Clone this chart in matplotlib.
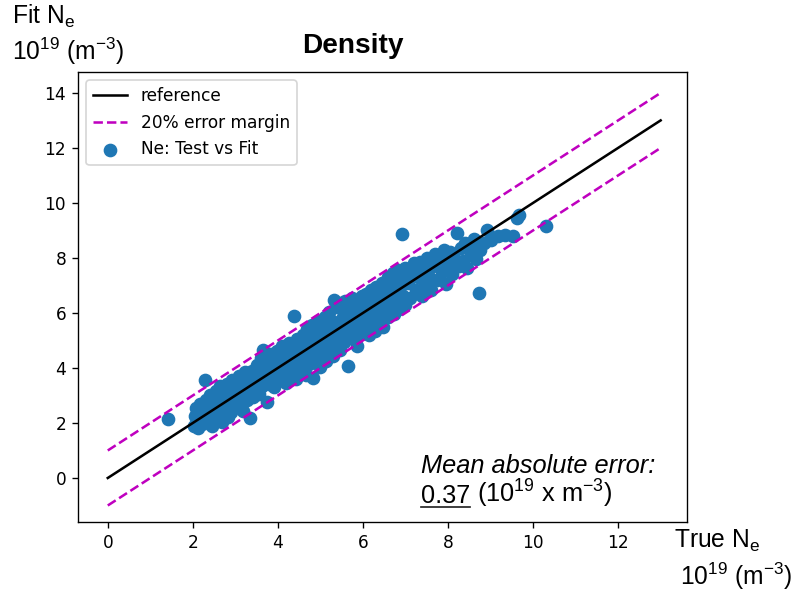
import numpy as np
import matplotlib.pyplot as plt
from matplotlib.lines import Line2D

plt.rcParams['mathtext.fontset'] = 'custom'
plt.rcParams['mathtext.rm'] = 'Liberation Sans'
plt.rcParams['mathtext.it'] = 'Liberation Sans:italic'
plt.rcParams['mathtext.bf'] = 'Liberation Sans:bold'

# puntos (True Ne, Fit Ne) en 1e19 m^-3
pts = [
    (1.41, 2.15),
    (2.02, 1.90), (2.05, 2.25), (2.08, 2.55), (2.10, 2.05), (2.12, 1.80), (2.15, 2.40), (2.18, 2.70),
    (2.20, 2.15), (2.22, 1.95), (2.25, 2.50), (2.28, 3.56), (2.30, 2.30), (2.32, 2.85), (2.35, 2.05),
    (2.38, 2.60), (2.40, 3.00), (2.42, 2.25), (2.45, 1.90), (2.48, 2.75), (2.50, 2.40),
    (2.52, 2.10), (2.55, 3.15), (2.58, 2.60), (2.60, 2.85), (2.62, 2.30), (2.65, 3.35), (2.68, 2.05),
    (2.70, 2.70), (2.72, 3.05), (2.75, 2.45), (2.78, 2.90), (2.80, 3.40), (2.82, 2.20), (2.85, 2.65),
    (2.88, 3.10), (2.90, 2.40), (2.92, 3.55), (2.95, 2.85), (2.98, 3.20), (3.00, 2.60),
    (3.02, 3.45), (3.05, 2.95), (3.08, 3.70), (3.10, 2.70), (3.12, 3.25), (3.15, 3.55), (3.18, 2.45),
    (3.20, 3.05), (3.22, 3.85), (3.25, 3.35), (3.28, 2.85), (3.30, 3.60), (3.34, 2.18), (3.35, 3.15),
    (3.38, 3.90), (3.40, 3.45), (3.42, 2.95), (3.45, 3.75), (3.48, 3.25), (3.50, 4.10),
    (3.52, 3.55), (3.55, 3.05), (3.58, 3.85), (3.60, 4.35), (3.62, 3.35), (3.65, 4.65), (3.68, 3.95),
    (3.70, 3.60), (3.74, 2.76), (3.75, 4.20), (3.78, 3.40), (3.80, 3.85), (3.82, 4.50), (3.85, 3.70),
    (3.88, 4.05), (3.90, 3.30), (3.92, 4.30), (3.95, 3.95), (3.98, 4.60), (4.00, 3.75),
    (4.02, 4.15), (4.05, 3.55), (4.08, 4.45), (4.10, 4.80), (4.12, 3.90), (4.15, 4.25), (4.18, 3.45),
    (4.20, 4.60), (4.22, 4.05), (4.25, 4.90), (4.28, 3.75), (4.30, 4.35), (4.32, 4.70), (4.35, 4.00),
    (4.38, 5.89), (4.40, 4.50), (4.42, 3.60), (4.45, 5.05), (4.48, 4.20), (4.50, 4.75),
    (4.52, 3.95), (4.55, 4.55), (4.58, 5.20), (4.60, 4.30), (4.62, 4.85), (4.65, 3.75), (4.68, 5.40),
    (4.70, 4.60), (4.72, 4.15), (4.75, 5.00), (4.78, 4.45), (4.80, 5.55), (4.82, 3.64), (4.85, 4.80),
    (4.88, 4.30), (4.90, 5.25), (4.92, 4.65), (4.95, 5.70), (4.98, 4.05), (5.00, 5.05),
    (5.02, 4.50), (5.05, 5.40), (5.08, 4.85), (5.10, 5.85), (5.12, 4.25), (5.15, 5.15), (5.18, 4.70),
    (5.20, 6.05), (5.22, 5.45), (5.25, 4.90), (5.28, 5.70), (5.32, 6.47), (5.30, 4.45), (5.35, 5.25),
    (5.38, 6.20), (5.40, 5.00), (5.42, 5.60), (5.45, 4.65), (5.48, 6.35), (5.50, 5.40),
    (5.52, 5.85), (5.55, 4.95), (5.58, 6.45), (5.60, 5.30), (5.62, 6.00), (5.65, 4.07), (5.68, 5.60),
    (5.70, 6.30), (5.72, 5.10), (5.75, 6.55), (5.78, 5.75), (5.80, 5.40), (5.82, 6.15), (5.85, 4.80),
    (5.88, 6.40), (5.90, 5.55), (5.92, 6.05), (5.95, 5.25), (5.98, 6.60), (6.00, 5.80),
    (6.02, 6.30), (6.05, 5.45), (6.08, 6.70), (6.10, 5.95), (6.12, 6.45), (6.15, 5.20), (6.18, 6.15),
    (6.20, 6.85), (6.22, 5.70), (6.25, 6.50), (6.28, 5.35), (6.30, 6.95), (6.32, 6.10), (6.35, 5.60),
    (6.38, 6.70), (6.40, 6.30), (6.42, 5.90), (6.45, 7.10), (6.48, 5.50), (6.50, 6.55),
    (6.52, 6.95), (6.55, 6.10), (6.58, 7.30), (6.60, 5.85), (6.62, 6.65), (6.65, 7.05), (6.68, 6.30),
    (6.70, 7.45), (6.72, 5.95), (6.75, 6.80), (6.78, 7.20), (6.80, 6.45), (6.82, 7.55), (6.85, 6.15),
    (6.88, 6.95), (6.92, 8.87), (6.90, 7.35), (6.95, 6.60), (6.98, 7.65), (7.00, 6.30),
    (7.05, 7.10), (7.10, 6.55), (7.15, 7.45), (7.20, 7.80), (7.25, 6.85), (7.30, 7.30), (7.34, 7.85),
    (7.38, 6.60), (7.42, 7.55), (7.46, 7.05), (7.50, 8.00),
    (7.55, 7.30), (7.60, 6.85), (7.65, 7.70), (7.70, 8.15), (7.75, 7.20), (7.80, 7.95), (7.85, 7.50),
    (7.90, 8.30), (7.95, 7.05), (8.00, 7.75), (8.05, 8.20), (8.10, 7.40), (8.15, 8.00), (8.21, 8.90),
    (8.25, 7.70), (8.30, 8.35),
    (8.35, 7.90), (8.40, 8.55), (8.45, 7.65), (8.50, 8.45), (8.55, 8.10), (8.60, 8.70), (8.65, 7.95),
    (8.73, 6.73), (8.75, 8.30), (8.85, 8.55), (8.92, 9.00), (9.00, 8.65),
    (9.18, 8.80), (9.35, 8.85), (9.53, 8.80), (9.62, 9.45), (9.68, 9.55), (10.30, 9.16),
]
true_ne = np.array([p[0] for p in pts])
fit_ne = np.array([p[1] for p in pts])

ref_x = np.array([0, 13])
margen = 1.0

fig = plt.figure(figsize=(792 / 122, 591 / 122), dpi=122)
ax = fig.add_axes([78 / 792, 1 - 522 / 591, 609 / 792, 450 / 591])

ax.scatter(true_ne, fit_ne, s=50, color='#1f77b4', label='Ne: Test vs Fit')
ax.plot(ref_x, ref_x, 'k', label='reference')
ax.plot(ref_x, ref_x + margen, 'm--', label='20% error margin')
ax.plot(ref_x, ref_x - margen, 'm--')

ax.set_xlim(-0.7, 13.62)
ax.set_ylim(-1.6, 14.76)
ax.set_xticks([0, 2, 4, 6, 8, 10, 12])
ax.set_yticks([0, 2, 4, 6, 8, 10, 12, 14])

h, l = ax.get_legend_handles_labels()
orden = [1, 2, 0]
ax.legend([h[i] for i in orden], [l[i] for i in orden], loc='upper left')

fs = 14.5
fam = 'Liberation Sans'
fig.text(12 / 792, 1 - 24 / 591, r'Fit N$_\mathrm{e}$', fontsize=fs, family=fam, va='baseline')
fig.text(12 / 792, 1 - 60 / 591, r'10$^{19}$ (m$^{-3}$)', fontsize=fs, family=fam, va='baseline')
fig.text(302 / 792, 1 - 53 / 591, 'Density', fontsize=16.5, family=fam, weight='bold', va='baseline')
fig.text(674 / 792, 1 - 548 / 591, r'True N$_\mathrm{e}$', fontsize=fs, family=fam, va='baseline')
fig.text(680 / 792, 1 - 585 / 591, r'10$^{19}$ (m$^{-3}$)', fontsize=fs, family=fam, va='baseline')

fig.text(421 / 792, 1 - 473 / 591, 'Mean absolute error:', fontsize=15, family=fam,
         style='italic', va='baseline')
y2 = 1 - 503 / 591
t = fig.text(421 / 792, y2, '0.37', fontsize=15, family=fam, va='baseline')
fig.canvas.draw()
bb = t.get_window_extent().transformed(fig.transFigure.inverted())
yu = 1 - 507 / 591
fig.add_artist(Line2D([bb.x0, bb.x1], [yu, yu], color='#222222', lw=1.0, transform=fig.transFigure))
fig.text(bb.x1, y2, r' (10$^{19}$ x m$^{-3}$)', fontsize=15, family=fam, va='baseline')

fig.savefig('out.png', dpi=122)
